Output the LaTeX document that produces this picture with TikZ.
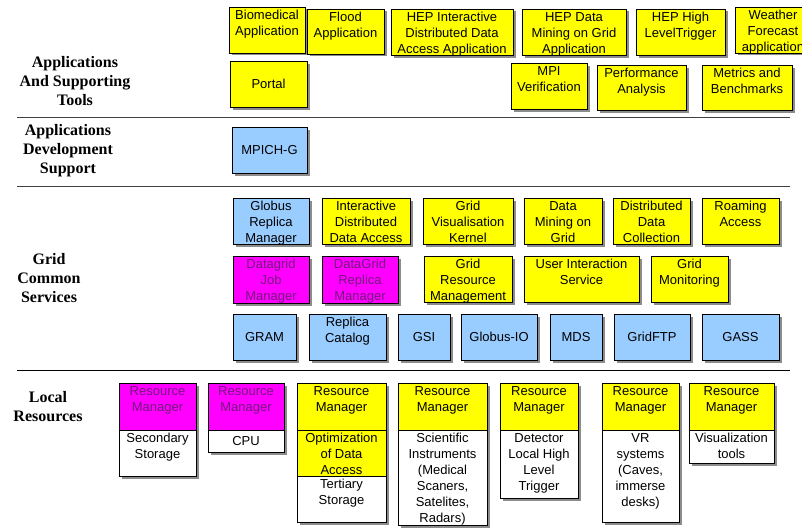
\documentclass[tikz,border=0pt]{standalone}
\usepackage{fontspec}
\setmainfont{Liberation Sans}
\newfontfamily\layerserif{Liberation Serif}
\usepackage{tikz}
\usetikzlibrary{positioning}
\usetikzlibrary{shadows}

\definecolor{appyellow}{RGB}{255,255,0}
\definecolor{globblue}{RGB}{153,204,255}
\definecolor{dgmagenta}{RGB}{255,0,255}
\definecolor{dgpurple}{RGB}{115,25,125}

\newcommand{\boxfont}{\fontsize{13}{16}\selectfont}
\newcommand{\layerfont}{\layerserif\bfseries\fontsize{16}{19}\selectfont}

\begin{document}
\begin{tikzpicture}[x=1pt, y=-1pt,
    box/.style={rectangle, draw=black, line width=0.8pt, anchor=north west,
        inner sep=0pt, outer sep=0pt, font=\boxfont,
        drop shadow={shadow xshift=2.5pt, shadow yshift=-2.5pt, fill=black!45, opacity=1}},
    app/.style={box, fill=appyellow},
    glob/.style={box, fill=globblue},
    dg/.style={box, fill=dgmagenta, text=dgpurple},
    res/.style={box, fill=white},
    txt/.style={anchor=north, align=center, inner sep=0pt, yshift=-3pt, font=\boxfont},
    ttext/.style={label={[txt]north:{#1}}},
    dtext/.style={label={[txt, text=dgpurple]north:{#1}}},
    layer/.style={align=center, font=\layerfont},
    sep/.style={draw=black!75, line width=1pt}]
    \useasboundingbox (0,0) rectangle (802,527);

    % layer names
    \node[layer] (lapp) at (75,81) {Applications\\And Supporting\\Tools};
    \node[layer] (ldev) at (68,151) {Applications\\Development\\Support};
    \node[layer] (lgrid) at (49,278) {Grid\\Common\\Services};
    \node[layer] (lloc) at (48,407) {Local\\Resources};

    % separators
    \coordinate (s1l) at (17,117);
    \coordinate (s1r) at (790,117);
    \coordinate (s2l) at (17,186);
    \coordinate (s2r) at (790,186);
    \coordinate (s3l) at (17,370);
    \coordinate (s3r) at (790,370);
    \draw[sep] (s1l) -- (s1r);
    \draw[sep] (s2l) -- (s2r);
    \draw[sep, draw=black] (s3l) -- (s3r);

    % applications and supporting tools
    \node[app, minimum width=76, minimum height=46, ttext={Biomedical\\Application}] (bio) at (229,7) {};
    \node[app, minimum width=77, minimum height=45, ttext={Flood\\Application}] (flood) at (307,9) {};
    \node[app, minimum width=122, minimum height=46, ttext={HEP Interactive\\Distributed Data\\Access Application}] (hepida) at (391,9) {};
    \node[app, minimum width=104, minimum height=46, ttext={HEP Data\\Mining on Grid\\Application}] (hepdm) at (522,9) {};
    \node[app, minimum width=89, minimum height=46, ttext={HEP High\\LevelTrigger}] (hephlt) at (636,9) {};
    \node[app, minimum width=76, minimum height=46, ttext={Weather\\Forecast\\application}] (weather) at (735,7) {};
    \node[app, minimum width=77, minimum height=46] (portal) at (230,61) {Portal};
    \node[app, minimum width=76, minimum height=46, ttext={MPI\\Verification}] (mpiv) at (511,63) {};
    \node[app, minimum width=89, minimum height=45, ttext={Performance\\Analysis}] (perf) at (597,65) {};
    \node[app, minimum width=90, minimum height=45, ttext={Metrics and\\Benchmarks}] (metrics) at (702,65) {};

    % applications development support
    \node[glob, minimum width=75, minimum height=46] (mpich) at (232,127) {MPICH-G};

    % grid common services
    \node[glob, minimum width=76, minimum height=46, ttext={Globus\\Replica\\Manager}] (grm) at (233,198) {};
    \node[app, minimum width=88, minimum height=46, ttext={Interactive\\Distributed\\Data Access}] (idda) at (322,198) {};
    \node[app, minimum width=90, minimum height=46, ttext={Grid\\Visualisation\\Kernel}] (gvk) at (423,198) {};
    \node[app, minimum width=78, minimum height=46, ttext={Data\\Mining on\\Grid}] (dmg) at (524,198) {};
    \node[app, minimum width=77, minimum height=46, ttext={Distributed\\Data\\Collection}] (ddc) at (613,198) {};
    \node[app, minimum width=77, minimum height=46, ttext={Roaming\\Access}] (roam) at (702,198) {};
    \node[dg, minimum width=76, minimum height=47, dtext={Datagrid\\Job\\Manager}] (djm) at (233,256) {};
    \node[dg, minimum width=76, minimum height=47, dtext={DataGrid\\Replica\\Manager}] (drm) at (322,256) {};
    \node[app, minimum width=88, minimum height=46, ttext={Grid\\Resource\\Management}] (grman) at (424,256) {};
    \node[app, minimum width=115, minimum height=46, ttext={User Interaction\\Service}] (uis) at (524,256) {};
    \node[app, minimum width=77, minimum height=46, ttext={Grid\\Monitoring}] (gmon) at (651,256) {};
    \foreach \x/\w/\n/\t in {233/63/gram/GRAM, 398/52/gsi/GSI, 461/76/gio/Globus-IO,
        550/52/mds/MDS, 614/76/ftp/GridFTP, 702/77/gass/GASS}
    {
        \node[glob, minimum width=\w, minimum height=46] (\n) at (\x,314) {\t};
    }
    \node[glob, minimum width=77, minimum height=46, ttext={Replica\\Catalog}] (repcat) at (309,314) {};

    % local resources
    \node[dg, minimum width=77, minimum height=47, dtext={Resource\\Manager}] (rm1) at (119,383) {};
    \node[dg, minimum width=76, minimum height=47, dtext={Resource\\Manager}] (rm2) at (208,383) {};
    \foreach \x/\w [count=\i from 3] in {297/89, 398/89, 500/78, 602/77, 689/85}
    {
        \node[app, minimum width=\w, minimum height=47, ttext={Resource\\Manager}] (rm\i) at (\x,383) {};
    }
    \node[res, minimum width=77, minimum height=46, below=0pt of rm1, ttext={Secondary\\Storage}] (res1) {};
    \node[res, minimum width=76, minimum height=22, below=0pt of rm2] (res2) {CPU};
    \node[app, minimum width=89, minimum height=46, below=0pt of rm3, ttext={Optimization\\of Data\\Access}] (opt3) {};
    \node[res, minimum width=89, minimum height=46, below=0pt of opt3, ttext={Tertiary\\Storage}] (res3) {};
    \node[res, minimum width=89, minimum height=95, below=0pt of rm4,
        ttext={Scientific\\Instruments\\(Medical\\Scaners,\\Satelites,\\Radars)}] (res4) {};
    \node[res, minimum width=78, minimum height=68, below=0pt of rm5,
        ttext={Detector\\Local High\\Level\\Trigger}] (res5) {};
    \node[res, minimum width=77, minimum height=92, below=0pt of rm6,
        ttext={VR\\systems\\(Caves,\\immerse\\desks)}] (res6) {};
    \node[res, minimum width=85, minimum height=33, below=0pt of rm7, ttext={Visualization\\tools}] (res7) {};
\end{tikzpicture}
\end{document}
